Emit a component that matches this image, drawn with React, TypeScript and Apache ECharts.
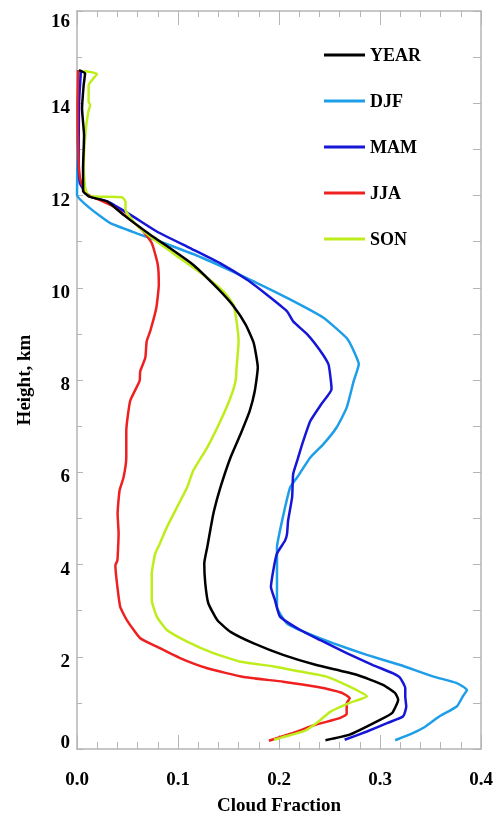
import React, { useEffect, useRef } from "react";
import * as echarts from "echarts";

const seriesNames = ["YEAR", "DJF", "MAM", "JJA", "SON"];
const seriesColors = ["#000000", "#1E9DE8", "#1616D6", "#EE2020", "#BDEE1C"];

// [cloud fraction, height km]
const yearData = [[0.246,0.19],[0.270,0.31],[0.300,0.63],[0.312,0.78],[0.318,1.07],[0.315,1.21],[0.303,1.39],[0.277,1.61],[0.237,1.82],[0.204,2.04],[0.175,2.29],[0.152,2.54],[0.139,2.79],[0.130,3.16],[0.127,3.59],[0.126,4.02],[0.129,4.38],[0.135,5.10],[0.142,5.67],[0.152,6.32],[0.162,6.83],[0.171,7.33],[0.176,7.76],[0.179,8.27],[0.175,8.80],[0.167,9.20],[0.155,9.60],[0.139,9.99],[0.115,10.50],[0.092,10.86],[0.0725,11.15],[0.046,11.58],[0.030,11.87],[0.013,11.97],[0.006,12.1],[0.006,12.6],[0.007,13.3],[0.005,13.88],[0.0066,14.39],[0.008,14.65],[0.002,14.72]];
const djfData = [[0.315,0.19],[0.333,0.35],[0.343,0.46],[0.359,0.71],[0.376,0.92],[0.382,1.14],[0.386,1.28],[0.376,1.43],[0.353,1.57],[0.320,1.82],[0.287,2.04],[0.254,2.29],[0.228,2.51],[0.208,2.72],[0.198,3.08],[0.198,3.80],[0.198,4.38],[0.201,4.74],[0.206,5.24],[0.211,5.67],[0.218,5.89],[0.231,6.32],[0.244,6.61],[0.257,6.97],[0.267,7.40],[0.274,7.98],[0.279,8.34],[0.274,8.63],[0.267,8.91],[0.244,9.35],[0.208,9.78],[0.168,10.21],[0.125,10.64],[0.086,10.97],[0.059,11.18],[0.033,11.40],[0.013,11.72],[0.000,12.01],[0.0005,13.0],[0.001,14.0],[0.002,14.72]];
const mamData = [[0.265,0.20],[0.287,0.38],[0.307,0.56],[0.323,0.71],[0.326,0.92],[0.325,1.14],[0.325,1.32],[0.320,1.54],[0.313,1.64],[0.293,1.82],[0.267,2.08],[0.241,2.36],[0.221,2.58],[0.201,2.87],[0.196,3.23],[0.192,3.51],[0.195,3.95],[0.198,4.24],[0.206,4.52],[0.208,4.67],[0.209,4.95],[0.213,5.46],[0.214,5.96],[0.218,6.25],[0.223,6.61],[0.231,7.11],[0.242,7.48],[0.252,7.80],[0.251,8.05],[0.249,8.34],[0.241,8.63],[0.228,8.99],[0.214,9.27],[0.208,9.49],[0.188,9.85],[0.168,10.18],[0.142,10.53],[0.112,10.86],[0.079,11.22],[0.053,11.58],[0.030,11.87],[0.0115,11.99],[0.003,12.26],[0.0016,12.73],[0.002,14.0],[0.004,14.72]];
const jjaData = [[0.190,0.18],[0.214,0.35],[0.237,0.53],[0.260,0.67],[0.267,0.76],[0.267,0.99],[0.270,1.10],[0.262,1.22],[0.237,1.35],[0.204,1.46],[0.165,1.56],[0.129,1.75],[0.102,1.97],[0.079,2.22],[0.0626,2.40],[0.0495,2.79],[0.0428,3.08],[0.0396,3.59],[0.038,3.98],[0.040,4.09],[0.041,4.52],[0.0412,4.67],[0.0402,5.10],[0.0421,5.60],[0.0461,5.89],[0.0488,6.32],[0.0488,6.90],[0.0527,7.55],[0.062,7.98],[0.0626,8.19],[0.0676,8.48],[0.069,8.84],[0.0725,9.06],[0.0785,9.56],[0.081,10.07],[0.080,10.50],[0.074,10.97],[0.063,11.29],[0.036,11.76],[0.0115,12.01],[0.008,12.08],[0.003,12.37],[0.001,13.0],[0.0005,14.0],[0.001,14.72]];
const sonData = [[0.195,0.20],[0.206,0.27],[0.224,0.38],[0.237,0.56],[0.251,0.81],[0.270,1.00],[0.287,1.14],[0.270,1.35],[0.247,1.57],[0.221,1.68],[0.195,1.79],[0.162,1.89],[0.135,2.08],[0.109,2.33],[0.089,2.58],[0.079,2.87],[0.074,3.23],[0.074,3.80],[0.0775,4.24],[0.082,4.45],[0.089,4.81],[0.099,5.24],[0.109,5.67],[0.115,6.03],[0.129,6.54],[0.142,7.11],[0.152,7.62],[0.157,7.98],[0.158,8.27],[0.160,8.84],[0.158,9.27],[0.155,9.63],[0.145,9.92],[0.125,10.28],[0.102,10.64],[0.079,11.0],[0.059,11.36],[0.048,11.69],[0.048,11.87],[0.0445,11.96],[0.0115,11.99],[0.0082,12.15],[0.0066,12.58],[0.0082,13.31],[0.011,13.8],[0.013,13.96],[0.0115,14.04],[0.0115,14.39],[0.0198,14.64],[0.007,14.70]];

const xTickValues = [0, 0.1, 0.2, 0.3, 0.4];
const yTickValues = [0, 2, 4, 6, 8, 10, 12, 14, 16];

const FONT = "Liberation Serif";
const AXIS_COLOR = "#b5b5b5";

export default function App() {
  const ref = useRef<HTMLDivElement>(null);
  useEffect(() => {
    if (!ref.current) return;
    const chart = echarts.init(ref.current, undefined, { renderer: "svg" });
    const allData = [yearData, djfData, mamData, jjaData, sonData];
    const drawOrder = [1, 2, 3, 4, 0];
    const labelStyle = { fontFamily: FONT, fontWeight: "bold", fontSize: 19, color: "#000000" };
    const tickLine = { color: AXIS_COLOR, width: 1 };
    const lineSeries = drawOrder.map((i) => ({
      name: seriesNames[i],
      type: "line",
      data: allData[i],
      xAxisIndex: 0,
      yAxisIndex: 0,
      showSymbol: false,
      smooth: 0.15,
      color: seriesColors[i],
      lineStyle: { color: seriesColors[i], width: 2.5 },
    }));
    chart.setOption({
      animation: false,
      grid: { left: 77, right: 15, top: 11, bottom: 67, containLabel: false, outerBoundsMode: "none" },
      legend: {
        data: seriesNames,
        orient: "vertical",
        left: 319,
        top: 41,
        itemWidth: 41,
        itemHeight: 3,
        itemGap: 28,
        icon: "rect",
        textStyle: { fontFamily: FONT, fontWeight: "bold", fontSize: 18, color: "#000000" },
      },
      xAxis: [
        {
          type: "value",
          min: 0,
          max: 0.4,
          interval: 0.1,
          position: "bottom",
          name: "Cloud Fraction",
          nameLocation: "middle",
          nameGap: 46,
          nameTextStyle: labelStyle,
          axisLine: { show: true, onZero: false, lineStyle: { color: AXIS_COLOR, width: 1.5 } },
          axisTick: { show: true, inside: true, length: 14, lineStyle: tickLine },
          minorTick: { show: true, splitNumber: 5, length: 7, lineStyle: tickLine },
          splitLine: { show: false },
          axisLabel: {
            fontFamily: FONT, fontWeight: "bold", fontSize: 19, color: "#000000",
            margin: 20,
            formatter: (v: number) => (xTickValues.some((t) => Math.abs(t - v) < 1e-9) ? v.toFixed(1) : ""),
          },
        },
        {
          type: "value",
          min: 0,
          max: 0.4,
          interval: 0.1,
          position: "top",
          axisLine: { show: true, onZero: false, lineStyle: { color: AXIS_COLOR, width: 1.5 } },
          axisTick: { show: true, inside: true, length: 14, lineStyle: tickLine },
          minorTick: { show: true, splitNumber: 5, length: 6, lineStyle: tickLine },
          splitLine: { show: false },
          axisLabel: { show: false },
        },
      ],
      yAxis: [
        {
          type: "value",
          min: 0,
          max: 16,
          interval: 2,
          position: "left",
          name: "Height, km",
          nameLocation: "middle",
          nameGap: 44,
          nameTextStyle: labelStyle,
          axisLine: { show: true, onZero: false, lineStyle: { color: AXIS_COLOR, width: 1.5 } },
          axisTick: { show: true, inside: true, length: 6, lineStyle: tickLine },
          minorTick: { show: true, splitNumber: 2, length: 5, lineStyle: tickLine },
          splitLine: { show: false },
          axisLabel: {
            fontFamily: FONT, fontWeight: "bold", fontSize: 19, color: "#000000",
            margin: 7,
            verticalAlignMinLabel: "bottom",
            verticalAlignMaxLabel: "top",
            formatter: (v: number) => {
              if (!yTickValues.includes(v)) return "";
              if (v === 0) return "{z|0}";
              if (v === 16) return "{t|16}";
              return `{a|${v}}`;
            },
            rich: {
              a: { fontFamily: FONT, fontWeight: "bold", fontSize: 19, color: "#000000", padding: [7, 0, 0, 0] },
              z: { fontFamily: FONT, fontWeight: "bold", fontSize: 19, color: "#000000", lineHeight: 15 },
              t: { fontFamily: FONT, fontWeight: "bold", fontSize: 19, color: "#000000", lineHeight: 19 },
            },
          },
        },
        {
          type: "value",
          min: 0,
          max: 16,
          interval: 2,
          position: "right",
          axisLine: { show: true, onZero: false, lineStyle: { color: AXIS_COLOR, width: 1.5 } },
          axisTick: { show: true, inside: true, length: 8, lineStyle: tickLine },
          minorTick: { show: true, splitNumber: 2, length: 8, lineStyle: tickLine },
          splitLine: { show: false },
          axisLabel: { show: false },
        },
      ],
      series: lineSeries,
    });
    return () => chart.dispose();
  }, []);
  return <div ref={ref} style={{ position: "fixed", left: 0, top: 0, width: 496, height: 816 }} />;
}
